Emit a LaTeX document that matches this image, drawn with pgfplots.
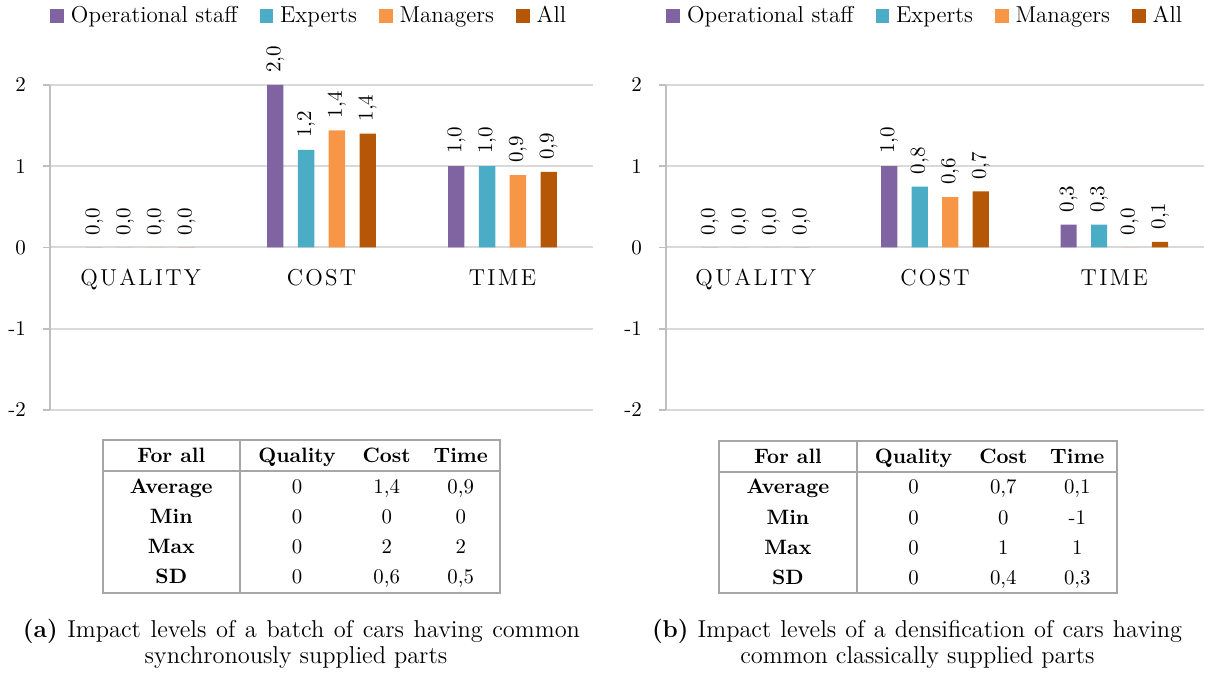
\documentclass[border=0pt]{standalone}
\usepackage{fontspec}
\usepackage{pgfplots}
\pgfplotsset{compat=1.18}
\usepackage{pgfplotstable}

\newfontfamily\spacedfont[LetterSpace=10]{Latin Modern Roman}

\definecolor{cOp}{HTML}{8064A2}
\definecolor{cEx}{HTML}{4BACC6}
\definecolor{cMa}{HTML}{F79646}
\definecolor{cAll}{HTML}{B65708}
\definecolor{gridc}{HTML}{D9D9D9}
\definecolor{axisc}{HTML}{BFBFBF}
\definecolor{tabc}{HTML}{A6A6A6}

\newcommand\spaced[1]{{\spacedfont #1}}

% panel (a): batch of cars, synchronously supplied parts
\pgfplotstableread{
x  op    opl  ex    exl  ma    mal  al    all
0  0     0,0  0     0,0  0     0,0  0     0,0
1  2.00  2,0  1.20  1,2  1.44  1,4  1.40  1,4
2  1.00  1,0  1.00  1,0  0.89  0,9  0.93  0,9
}\panelA

% panel (b): densification of cars, classically supplied parts
\pgfplotstableread{
x  op    opl  ex    exl  ma    mal  al    all
0  0     0,0  0     0,0  0     0,0  0     0,0
1  1.00  1,0  0.75  0,8  0.62  0,6  0.69  0,7
2  0.28  0,3  0.28  0,3  0.00  0,0  0.07  0,1
}\panelB

\pgfplotsset{
  panel/.style={
    scale only axis,
    height=162.5pt,
    ymin=-2, ymax=2,
    xmin=-0.5, xmax=2.5,
    axis y line*=left,
    axis x line*=middle,
    hide obscured y ticks=false,
    hide obscured x ticks=false,
    y axis line style={-, axisc, line width=0.8pt},
    x axis line style={-, gridc, line width=1pt},
    ytick={-2,-1,0,1,2},
    yticklabels={-2,-1,0,1,2},
    ytick style={axisc, line width=0.8pt},
    major tick length=3.5pt,
    tick align=outside,
    yticklabel style={xshift=-5pt},
    ymajorgrids=true,
    grid style={gridc, line width=0.8pt},
    xtick={0,1,2},
    xticklabels={\spaced{QUALITY},\spaced{COST},\spaced{TIME}},
    xtick style={draw=none},
    xticklabel style={yshift=-4pt, font=\fontsize{11.5}{13}\selectfont},
    extra x ticks={0.5,1.5,2.5},
    extra x tick labels={},
    extra x tick style={xtick style={axisc, line width=0.8pt}, major tick length=4pt, tick align=outside},
    ticklabel style={font=\fontsize{10.5}{12}\selectfont},
    ybar,
    bar width=0.09,
    nodes near coords,
    point meta=explicit symbolic,
    every node near coord/.append style={rotate=90, anchor=west, inner xsep=6pt, inner ysep=0pt,
      font=\fontsize{10.5}{12}\selectfont, text=black},
    legend columns=4,
    legend style={draw=none, fill=none, at={(0,1)}, anchor=west, yshift=34.5pt, xshift=0pt,
      font=\fontsize{11.5}{13}\selectfont, inner sep=0pt,
      /tikz/every odd column/.append style={column sep=1.5pt},
      /tikz/every even column/.append style={column sep=9pt}},
    legend image code/.code={\fill[##1] (0pt,-3.4pt) rectangle (6.8pt,3.4pt);},
  },
}

% summary table: #1 top-left corner, #2..#9 = Cost/Time values of Average, Min, Max, SD
\newcommand\statstable[9]{%
  \begin{scope}[shift={#1}, font=\fontsize{10.4}{12}\selectfont]
    \draw[tabc, line width=1pt] (0,0) rectangle (198.65pt,-76.35pt);
    \draw[tabc, line width=1pt] (0,-15.5pt) -- (198.65pt,-15.5pt);
    \draw[tabc, line width=1pt] (68.65pt,0) -- (68.65pt,-76.35pt);
    \node[anchor=base] at (34.3pt,-11.35pt) {\bfseries For all};
    \node[anchor=base] at (97.15pt,-11.35pt) {\bfseries Quality};
    \node[anchor=base] at (142pt,-11.35pt) {\bfseries Cost};
    \node[anchor=base] at (179pt,-11.35pt) {\bfseries Time};
    \node[anchor=base] at (34.3pt,-26.65pt) {\bfseries Average};
    \node[anchor=base] at (34.3pt,-41.65pt) {\bfseries Min};
    \node[anchor=base] at (34.3pt,-56.65pt) {\bfseries Max};
    \node[anchor=base] at (34.3pt,-71.65pt) {\bfseries SD};
    \node[anchor=base] at (97.15pt,-26.65pt) {0};
    \node[anchor=base] at (97.15pt,-41.65pt) {0};
    \node[anchor=base] at (97.15pt,-56.65pt) {0};
    \node[anchor=base] at (97.15pt,-71.65pt) {0};
    \node[anchor=base] at (142pt,-26.65pt) {#2};
    \node[anchor=base] at (179pt,-26.65pt) {#3};
    \node[anchor=base] at (142pt,-41.65pt) {#4};
    \node[anchor=base] at (179pt,-41.65pt) {#5};
    \node[anchor=base] at (142pt,-56.65pt) {#6};
    \node[anchor=base] at (179pt,-56.65pt) {#7};
    \node[anchor=base] at (142pt,-71.65pt) {#8};
    \node[anchor=base] at (179pt,-71.65pt) {#9};
  \end{scope}}

\begin{document}
\begin{tikzpicture}
\useasboundingbox (0,0) rectangle (603pt,-339.5pt);

\begin{axis}[panel, width=271.5pt, at={(25pt,-205pt)}, anchor=south west]
  \addplot[fill=cOp, draw=none, bar shift=-0.255] table[x=x, y=op, meta=opl] {\panelA};
  \addplot[fill=cEx, draw=none, bar shift=-0.085] table[x=x, y=ex, meta=exl] {\panelA};
  \addplot[fill=cMa, draw=none, bar shift=0.085] table[x=x, y=ma, meta=mal] {\panelA};
  \addplot[fill=cAll, draw=none, bar shift=0.255] table[x=x, y=al, meta=all] {\panelA};
  \legend{Operational staff, Experts, Managers, All}
\end{axis}

\begin{axis}[panel, width=269pt, at={(333pt,-205pt)}, anchor=south west]
  \addplot[fill=cOp, draw=none, bar shift=-0.255] table[x=x, y=op, meta=opl] {\panelB};
  \addplot[fill=cEx, draw=none, bar shift=-0.085] table[x=x, y=ex, meta=exl] {\panelB};
  \addplot[fill=cMa, draw=none, bar shift=0.085] table[x=x, y=ma, meta=mal] {\panelB};
  \addplot[fill=cAll, draw=none, bar shift=0.255] table[x=x, y=al, meta=all] {\panelB};
  \legend{Operational staff, Experts, Managers, All}
\end{axis}

\statstable{(51.35pt,-220pt)}{1,4}{0,9}{0}{0}{2}{2}{0,6}{0,5}
\statstable{(359.65pt,-220.35pt)}{0,7}{0,1}{0}{-1}{1}{1}{0,4}{0,3}

% captions: first line justified, last line centred
\begin{scope}[font=\fontsize{12.2}{14}\selectfont, inner sep=0pt]
  \node[anchor=base] at (150.75pt,-318.5pt)
    {\makebox[278.5pt][s]{\textbf{(a)} Impact levels of a batch of cars having common}};
  \node[anchor=base] at (148pt,-331.5pt) {synchronously supplied parts};
  \node[anchor=base] at (458.5pt,-318.5pt)
    {\makebox[265pt][s]{\textbf{(b)} Impact levels of a densification of cars having}};
  \node[anchor=base] at (458.75pt,-331.5pt) {common classically supplied parts};
\end{scope}
\end{tikzpicture}
\end{document}
